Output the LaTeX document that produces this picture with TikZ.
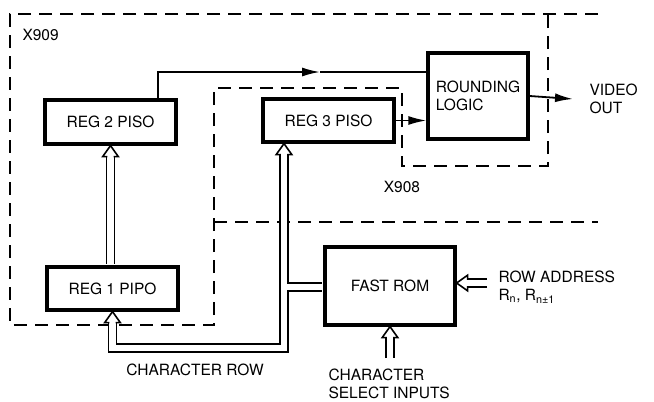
\documentclass[tikz,border=0pt]{standalone}
\usepackage{fontspec}
\setmainfont{TeX Gyre Heros}
\usetikzlibrary{arrows.meta,calc}
\tikzset{
  blk/.style={draw, line width=3.2pt, inner sep=0pt, align=center},
  sig/.style={line width=1.8pt},
  bound/.style={line width=1.6pt, dash pattern=on 13pt off 8pt},
  bus/.style={double, line width=1.6pt, double distance=6.4pt, shorten >=11pt},
  busout/.style={line width=9.6pt, shorten >=11pt},
  busin/.style={white, line width=6.4pt, shorten >=11pt},
  sigtip/.tip={Latex[length=18pt,width=9pt]},
  bushead/.pic={
    \fill[white] (-7.8,11) -- (0,0) -- (7.8,11) -- cycle;
    \draw[line width=1.6pt, line join=miter] (-3.2,11) -- (-7.8,11) -- (0,0) -- (7.8,11) -- (3.2,11);
  }
}
\begin{document}
\begin{tikzpicture}[x=1pt, y=-1pt, font=\fontsize{15.5}{18.5}\selectfont]
    \useasboundingbox (0,0) rectangle (654,402);
    % Chip boundaries
    \draw[bound] (598,14) -- (10,14) -- (10,325) -- (214,325) -- (214,88) -- (402,88)
        -- (402,166) -- (548,166) -- (548,14);
    \draw[bound] (214,222) -- (598,222);
    \node[anchor=west] (x909) at (19,35) {X909};
    \node (x908) at (402,187) {X908};
    % Blocks
    \node[blk, minimum width=131pt, minimum height=44pt] (reg2) at (110.5,122) {REG 2 PISO};
    \node[blk, minimum width=131pt, minimum height=43pt] (reg3) at (328.5,120.5) {REG 3 PISO};
    \node[blk, minimum width=131pt, minimum height=43pt] (reg1) at (112.5,288.5) {REG 1 PIPO};
    \node[blk, minimum width=130pt, minimum height=78pt] (rom) at (390,286) {FAST ROM};
    \node[blk, minimum width=100pt, minimum height=86pt, align=left] (round) at (478,96) {ROUNDING\\LOGIC};
    % Labels
    \node[anchor=west, align=left] (vid) at (586,99) {VIDEO\\OUT};
    \node[anchor=west, align=left] (rowaddr) at (495,287) {ROW ADDRESS\\R\textsubscript{n}, R\textsubscript{n±1}};
    \node[anchor=west, align=left] (csel) at (325,384) {CHARACTER\\SELECT INPUTS};
    \node (crow) at (195,370) {CHARACTER ROW};
    % Serial lines
    \coordinate (mid) at (320,72);
    \draw[sig, -sigtip] (reg2.north -| 158,0) |- (mid);
    \draw[sig] (mid) -- (round.west |- mid);
    \draw[sig, -sigtip] (reg3.east) -- (round.west |- reg3.east);
    \draw[sig, -sigtip] (round.east) -- ([xshift=-13pt]vid.west);
    % Parallel buses
    \coordinate (fork) at (284,287);
    \coordinate (busbot) at (284,348);
    \coordinate (romfeed) at ($(rom.west |- fork)+(-1.6,0)$);
    \draw[busout] (romfeed) -| (reg3.south -| fork);
    \draw[busout] (fork) -- (busbot) -| (reg1.south);
    \draw[busin] (romfeed) -| (reg3.south -| fork);
    \draw[busin] (fork) -- (busbot) -| (reg1.south);
    \pic at (reg3.south -| fork) {bushead};
    \pic at (reg1.south) {bushead};
    \draw[bus] ($(reg1.north -| reg2.south)+(0,-1.6)$) -- (reg2.south);
    \pic at (reg2.south) {bushead};
    \coordinate (rowin) at (487,283);
    \draw[bus] (rowin) -- (rom.east |- rowin);
    \pic[rotate=90] at (rom.east |- rowin) {bushead};
    \coordinate (selin) at (390,358);
    \draw[bus] (selin) -- (rom.south);
    \pic at (rom.south) {bushead};
\end{tikzpicture}
\end{document}
